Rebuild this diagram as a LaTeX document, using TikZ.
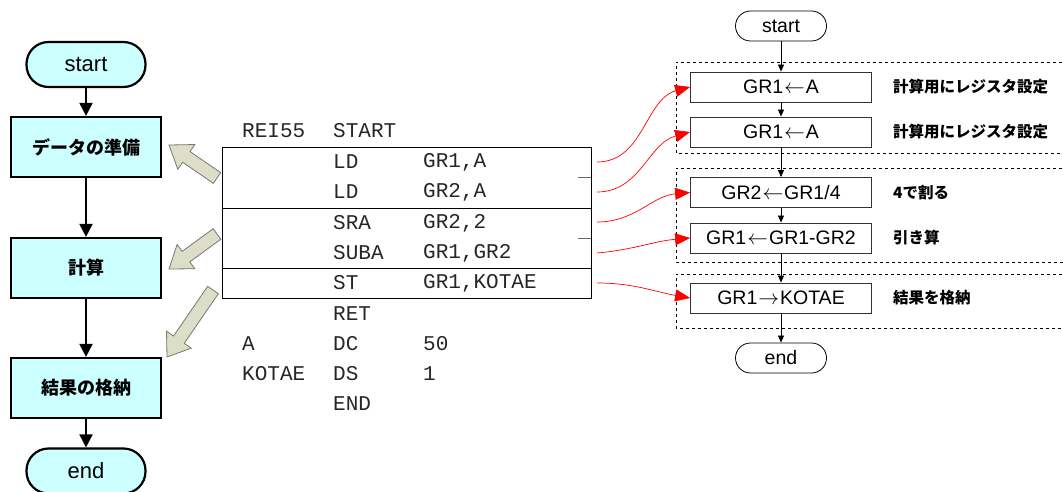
\documentclass[tikz,border=0pt]{standalone}
\usepackage{fontspec}
\setmainfont{Liberation Sans}
\newfontfamily\jp{Noto Sans CJK JP}
\newfontfamily\mono{Liberation Mono}
\usetikzlibrary{arrows.meta,calc}
\definecolor{lcyan}{RGB}{204,255,255}
\definecolor{blkfill}{RGB}{220,222,200}
\definecolor{blkdraw}{RGB}{120,120,110}
\newcommand{\larr}{\hspace{1pt}$\leftarrow$\hspace{1pt}}
\newcommand{\rarr}{\hspace{1pt}$\rightarrow$\hspace{1pt}}
\newcommand{\blkarr}[2]{%
  \coordinate (bh) at ($(#2)!21pt!(#1)$);
  \draw[blkstyle] ($(#1)!6.5pt!90:(#2)$) -- ($(bh)!6.5pt!90:(#2)$) -- ($(bh)!15pt!90:(#2)$) -- (#2)
    -- ($(bh)!15pt!-90:(#2)$) -- ($(bh)!6.5pt!-90:(#2)$) -- ($(#1)!6.5pt!-90:(#2)$) -- cycle;}
\begin{document}
\begin{tikzpicture}[x=1pt,y=-1pt,
  lterm/.style={draw, line width=2.2pt, fill=lcyan, rounded corners=22pt, minimum width=119pt, minimum height=45pt, inner sep=0pt, font=\fontsize{22}{22}\selectfont},
  lbox/.style={draw, line width=2.2pt, fill=lcyan, minimum width=150pt, minimum height=60pt, inner sep=0pt, font=\jp\bfseries\fontsize{18}{18}\selectfont},
  larrow/.style={line width=2pt, -{Triangle[length=13pt,width=13pt]}},
  rterm/.style={draw, line width=0.8pt, rounded corners=15pt, minimum width=91pt, minimum height=30pt, inner sep=0pt, font=\fontsize{19.5}{19.5}\selectfont},
  rbox/.style={draw=black!80, line width=0.8pt, minimum width=181pt, minimum height=30pt, inner sep=0pt, font=\fontsize{19.5}{19.5}\selectfont},
  rarrow/.style={line width=0.7pt, -{Triangle[length=7pt,width=6pt]}},
  note/.style={anchor=west, inner sep=0pt, font=\jp\bfseries\fontsize{15.5}{15.5}\selectfont},
  grp/.style={draw, dashed, line width=0.7pt},
  redarr/.style={red, line width=0.7pt, -{Triangle[length=15pt,width=12pt]}},
  code/.style={anchor=west, inner sep=0pt, font=\mono\fontsize{21}{21}\selectfont, text=black!85},
  blkstyle/.style={fill=blkfill, draw=blkdraw, line width=0.8pt}
]
\useasboundingbox (0,0) rectangle (1063,492);

% left flowchart
\node[lterm] (ls) at (86,64.5) {start};
\node[lbox] (l1) at (86,147) {データの準備};
\node[lbox] (l2) at (86,268) {計算};
\node[lbox] (l3) at (86,388) {結果の格納};
\node[lterm] (le) at (86,471) {end};
\draw[larrow] (ls) -- (l1);
\draw[larrow] (l1) -- (l2);
\draw[larrow] (l2) -- (l3);
\draw[larrow] (l3) -- (le);

% block arrows
\coordinate (t1) at (217,178); \coordinate (p1) at (169,145);
\coordinate (t2) at (217,234); \coordinate (p2) at (169,269);
\coordinate (t3) at (213,290); \coordinate (p3) at (167,357);
\blkarr{t1}{p1}
\blkarr{t2}{p2}
\blkarr{t3}{p3}

% code table
\draw[line width=0.8pt] (222,147) rectangle (591,298);
\draw[line width=0.8pt] (222,208) -- (591,208);
\draw[line width=0.8pt] (222,268) -- (591,268);
\draw[line width=0.8pt, black!60] (578,177) -- (591,177);
\draw[line width=0.8pt, black!60] (578,238) -- (591,238);

\node[code] (c1a) at (242,131) {REI55};
\node[code] (c1b) at (333,131) {START};
\node[code] (c2b) at (333,162) {LD};
\node[code] (c2c) at (423,162) {GR1,A};
\node[code] (c3b) at (333,192) {LD};
\node[code] (c3c) at (423,192) {GR2,A};
\node[code] (c4b) at (333,223) {SRA};
\node[code] (c4c) at (423,223) {GR2,2};
\node[code] (c5b) at (333,253) {SUBA};
\node[code] (c5c) at (423,253) {GR1,GR2};
\node[code] (c6b) at (333,283) {ST};
\node[code] (c6c) at (423,283) {GR1,KOTAE};
\node[code] (c7b) at (333,314) {RET};
\node[code] (c8a) at (242,344) {A};
\node[code] (c8b) at (333,344) {DC};
\node[code] (c8c) at (423,344) {50};
\node[code] (c9a) at (242,374) {KOTAE};
\node[code] (c9b) at (333,374) {DS};
\node[code] (c9c) at (423,374) {1};
\node[code] (c10b) at (333,404) {END};

% right flowchart groups
\draw[grp] (1068,62) -- (676,62) -- (676,153) -- (1068,153);
\draw[grp] (1068,168) -- (676,168) -- (676,262) -- (1068,262);
\draw[grp] (1068,274) -- (676,274) -- (676,328) -- (1068,328);

\node[rterm, fill=white] (rs) at (781,26) {start};
\node[rbox, fill=white] (b1) at (781,87) {GR1\larr A};
\node[rbox, fill=white] (b2) at (781,132) {GR1\larr A};
\node[rbox, fill=white] (b3) at (781,192.5) {GR2\larr GR1/4};
\node[rbox, fill=white] (b4) at (781,238) {GR1\larr GR1-GR2};
\node[rbox, fill=white] (b5) at (781,298) {GR1\rarr KOTAE};
\node[rterm, fill=white] (re) at (781,358) {end};
\draw[rarrow] (rs) -- (b1);
\draw[rarrow] (b1) -- (b2);
\draw[rarrow] (b2) -- (b3);
\draw[rarrow] (b3) -- (b4);
\draw[rarrow] (b4) -- (b5);
\draw[rarrow] (b5) -- (re);

\node[note] (n1) at (893,87) {計算用にレジスタ設定};
\node[note] (n2) at (893,132) {計算用にレジスタ設定};
\node[note] (n3) at (893,192.5) {4で割る};
\node[note] (n4) at (893,238) {引き算};
\node[note] (n5) at (893,298) {結果を格納};

% red connectors
\coordinate (r1) at (597,162);
\coordinate (r2) at (597,192);
\coordinate (r3) at (597,222);
\coordinate (r4) at (597,253);
\coordinate (r5) at (597,283);
\draw[redarr] (r1) to[out=0,in=195] (b1.west);
\draw[redarr] (r2) to[out=0,in=195] (b2.west);
\draw[redarr] (r3) to[out=0,in=185] (b3.west);
\draw[redarr] (r4) to[out=5,in=185] (b4.west);
\draw[redarr] (r5) to[out=0,in=170] (b5.west);
\end{tikzpicture}
\end{document}
